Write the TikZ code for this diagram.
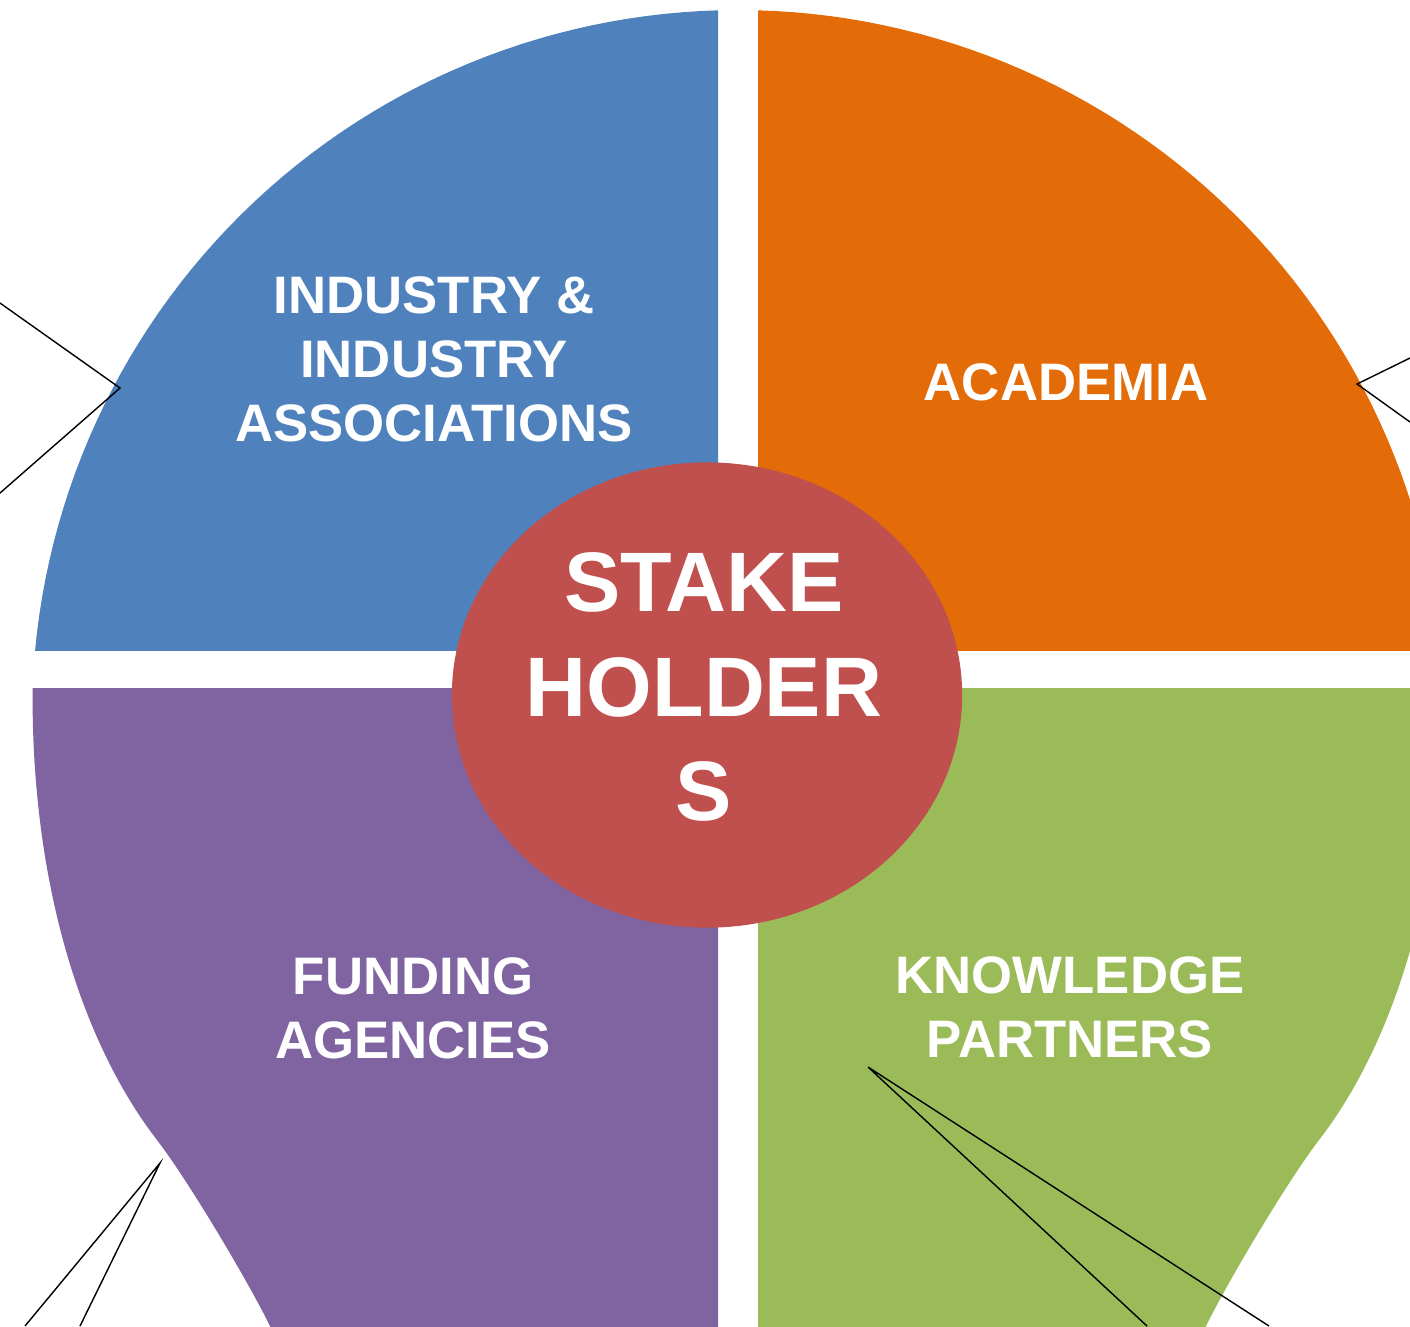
\documentclass[tikz,border=0pt]{standalone}
\usepackage{fontspec}
\setmainfont{Liberation Sans}
\usetikzlibrary{shapes.geometric,positioning}

\definecolor{blueq}{HTML}{4F81BD}
\definecolor{orangeq}{HTML}{E36C09}
\definecolor{purpleq}{HTML}{8064A2}
\definecolor{greenq}{HTML}{9BBB59}
\definecolor{hubred}{HTML}{C0504D}

% outline of the whole bulb, left half then mirrored right half
\newcommand{\bulbpath}{(738,10) -- plot[domain=90:177.7,samples=60] ({738+706*cos(\x)},{716-706*sin(\x)})
  .. controls (31,880) and (80,1040) .. (157,1140)
  .. controls (187.5,1179.5) and (248,1281) .. (270,1326) -- (300,1420) -- (1176,1420) -- (1206,1326)
  .. controls (1228,1281) and (1288.5,1179.5) .. (1319,1140)
  .. controls (1396,1040) and (1445,880) .. (1443.4,687.7)
  -- plot[domain=2.3:90,samples=60] ({738+706*cos(\x)},{716-706*sin(\x)}) -- cycle}

\begin{document}
\begin{tikzpicture}[x=0.01cm,y=-0.01cm,% pixel grid, y going down
        quadtext/.style={text=white,font=\bfseries\fontsize{15}{18.2}\selectfont,align=center,inner sep=0pt},
        hubtext/.style={text=white,font=\bfseries\fontsize{24}{29.6}\selectfont,align=center,inner sep=0pt},
        hub/.style={ellipse,fill=hubred,minimum width=5.1cm,minimum height=4.65cm,inner sep=0pt},
        callout/.style={black,line width=0.4pt}]
\useasboundingbox (0,0) rectangle (1410,1326);
\clip (0,0) rectangle (1410,1326);

\foreach \col/\xa/\ya/\xb/\yb in {blueq/0/0/718/650,orangeq/758/0/1500/650,purpleq/0/688/718/1420,greenq/758/688/1500/1420}{ % one quarter each
\begin{scope}
\clip (\xa,\ya) rectangle (\xb,\yb);
\fill[\col] \bulbpath;
\end{scope}
}

\node[hub] (hub) at (707,695) {};
\node[hubtext] (hubtxt) at (704,687) {STAKE\\HOLDER\\S};

\node[quadtext] (industry) at (434,359) {INDUSTRY \&\\INDUSTRY\\ASSOCIATIONS};
\node[quadtext] (academia) at (1066,382) {ACADEMIA};
\node[quadtext] (funding) at (413,1008) {FUNDING\\AGENCIES};
\node[quadtext] (knowledge) at (1070,1007) {KNOWLEDGE\\PARTNERS};

% callout pointers
\coordinate (tlv) at (120,388);
\coordinate (tla) at (0,303);
\coordinate (tlb) at (0,493);
\coordinate (trv) at (1357,384);
\coordinate (tra) at (1410,358);
\coordinate (trb) at (1410,422);
\coordinate (blv) at (160,1163);
\coordinate (bla) at (25,1326);
\coordinate (blb) at (80,1326);
\coordinate (brv) at (868,1067);
\coordinate (bra) at (1147,1326);
\coordinate (brb) at (1269,1326);
\foreach \v in {tl,tr,bl,br}{
\draw[callout] (\v a) -- (\v v) -- (\v b);
}
\end{tikzpicture}
\end{document}
